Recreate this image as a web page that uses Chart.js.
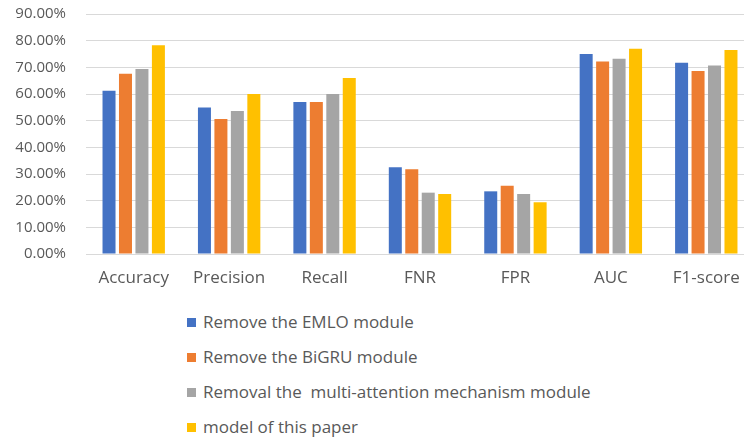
<!DOCTYPE html>
<html>
<head>
<meta charset="utf-8">
<script src="https://cdn.jsdelivr.net/npm/chart.js@4/dist/chart.umd.min.js"></script>
<style>
  body { margin: 0; background: #fff; overflow: hidden; }
  #wrap { position: relative; width: 744px; height: 444px; overflow: hidden; }
  #legend { position: absolute; left: 187px; top: 308px; font-family: "Open Sans", sans-serif; font-size: 17px; color: #595959; }
  #legend div { height: 35px; line-height: 28px; white-space: pre; }
  #legend span.box { display: inline-block; width: 9px; height: 9px; margin-right: 7px; vertical-align: 1px; }
</style>
</head>
<body>
<div id="wrap">
  <canvas id="ablationChart" width="756" height="300"></canvas>
  <div id="legend"></div>
</div>
<script>
// 評価指標（カテゴリ）
const metrics = ['Accuracy', 'Precision', 'Recall', 'FNR', 'FPR', 'AUC', 'F1-score'];

// 各モデルの値（%）
const removeEmlo = [61.2, 54.9, 57.0, 32.5, 23.5, 75.0, 71.7];
const removeBigru = [67.6, 50.6, 57.0, 31.8, 25.6, 72.2, 68.6];
const removeAttention = [69.4, 53.6, 60.0, 23.0, 22.5, 73.2, 70.7];
const thisModel = [78.3, 60.0, 66.0, 22.5, 19.4, 77.0, 76.5];

const seriesNames = [
  'Remove the EMLO module',
  'Remove the BiGRU module',
  'Removal the  multi-attention mechanism module',
  'model of this paper'
];
const seriesColors = ['#4472C4', '#ED7D31', '#A5A5A5', '#FFC000'];

// y軸の目盛り
const yMax = 90;
const yStep = 10;

const textColor = '#595959';
const gridColor = '#d9d9d9';

const ctx = document.getElementById('ablationChart').getContext('2d');
const seriesValues = [removeEmlo, removeBigru, removeAttention, thisModel];

const chart = new Chart(ctx, {
  type: 'bar',
  data: {
    labels: metrics,
    datasets: seriesValues.map((vals, i) => ({
      label: seriesNames[i],
      data: vals,
      backgroundColor: seriesColors[i],
      categoryPercentage: 0.69,
      barPercentage: 0.79
    }))
  },
  options: {
    responsive: false,
    animation: false,
    layout: { padding: { top: 14, right: 2, left: 0, bottom: 0 } },
    plugins: {
      legend: { display: false },
      tooltip: { enabled: false }
    },
    scales: {
      x: {
        grid: { display: false },
        border: { color: gridColor },
        afterFit: function(axis) {
          // x軸の高さを固定してプロット領域の下端を合わせる
          axis.height = 46;
        },
        ticks: {
          color: textColor,
          font: { family: 'Open Sans', size: 17 },
          padding: 6
        }
      },
      y: {
        min: 0,
        max: yMax,
        border: { display: false },
        grid: { color: gridColor, drawTicks: false },
        afterFit: function(axis) {
          // 軸の幅を固定し、上下の自動余白を消す
          axis.width = 86;
          axis.paddingTop = 0;
          axis.paddingBottom = 0;
        },
        ticks: {
          stepSize: yStep,
          color: textColor,
          font: { family: 'Open Sans', size: 15 },
          padding: 20,
          callback: function(value) {
            return value.toFixed(2) + '%';
          }
        }
      }
    }
  }
});

// 凡例をHTMLで縦に並べる
const legendEl = document.getElementById('legend');
chart.data.datasets.forEach(ds => {
  const row = document.createElement('div');
  const box = document.createElement('span');
  box.className = 'box';
  box.style.background = ds.backgroundColor;
  row.appendChild(box);
  row.appendChild(document.createTextNode(ds.label));
  legendEl.appendChild(row);
});
</script>
</body>
</html>
